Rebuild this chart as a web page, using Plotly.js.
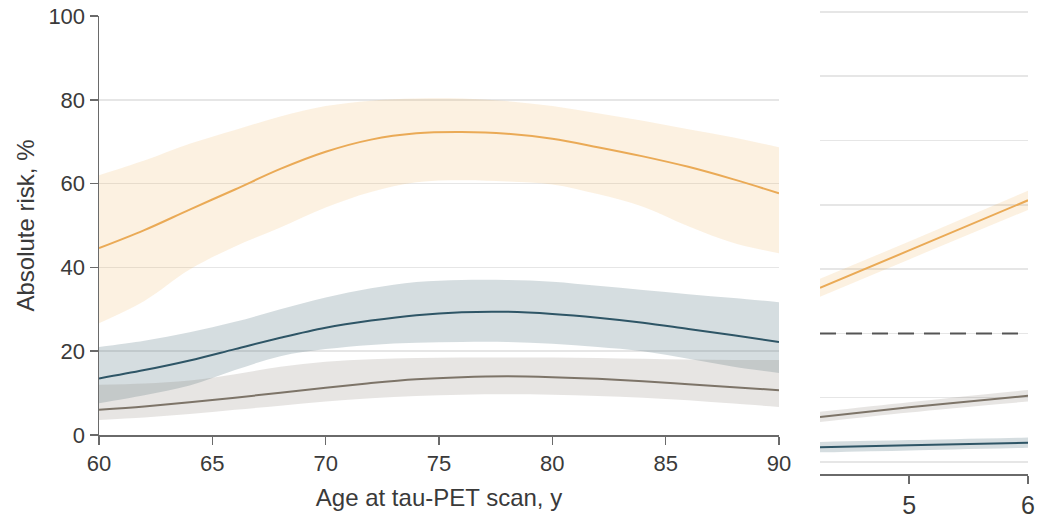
<!DOCTYPE html>
<html>
<head>
<meta charset="utf-8">
<script src="https://cdn.plot.ly/plotly-3.0.1.min.js"></script>
<style>html,body{margin:0;padding:0;background:#fff;}#chart{width:1043px;height:520px;}</style>
</head>
<body>
<div id="chart"></div>
<script>
// ---- Main panel data (age vs absolute risk, %) ----
const ages = [60, 62, 64, 66, 68, 70, 72, 74, 76, 78, 80, 82, 84, 86, 88, 90];

const orangeMid   = [44.6, 48.9, 53.8, 58.6, 63.5, 67.6, 70.5, 72.0, 72.3, 71.9, 70.7, 68.7, 66.5, 64.0, 61.0, 57.7];
const orangeUpper = [62.0, 65.5, 69.5, 72.8, 76.0, 78.5, 79.8, 80.3, 80.3, 79.7, 78.5, 76.8, 75.0, 73.0, 71.0, 68.7];
const orangeLower = [26.7, 32.0, 39.5, 45.0, 49.5, 54.3, 58.0, 60.3, 60.8, 60.5, 59.8, 57.5, 54.5, 49.8, 45.8, 43.4];

const blueMid   = [13.5, 15.5, 17.8, 20.5, 23.2, 25.6, 27.3, 28.6, 29.3, 29.4, 28.9, 28.0, 26.8, 25.3, 23.8, 22.2];
const blueUpper = [21.0, 22.5, 24.5, 27.0, 30.0, 32.8, 35.0, 36.5, 37.0, 37.0, 36.6, 35.6, 34.6, 33.6, 32.7, 31.7];
const blueLower = [7.6, 9.5, 11.8, 15.5, 18.8, 20.5, 21.5, 22.0, 22.2, 22.2, 21.8, 21.0, 20.0, 18.2, 16.3, 14.8];

const grayMid   = [6.0, 6.8, 7.8, 8.9, 10.1, 11.3, 12.4, 13.3, 13.8, 14.0, 13.8, 13.4, 12.8, 12.1, 11.4, 10.7];
const grayUpper = [12.0, 12.3, 13.0, 14.5, 16.3, 17.5, 18.1, 18.4, 18.5, 18.5, 18.5, 18.4, 18.2, 18.0, 17.9, 17.9];
const grayLower = [3.6, 4.2, 5.0, 6.0, 7.0, 8.0, 8.8, 9.3, 9.6, 9.7, 9.6, 9.3, 8.9, 8.3, 7.5, 6.7];

const mainXTicks = [60, 65, 70, 75, 80, 85, 90];
const mainYTicks = [0, 20, 40, 60, 80, 100];

// ---- Right (partial) panel data ----
const rightX = [4.25, 5, 6];
const rOrangeMid   = [27.1, 32.9, 40.7];
const rOrangeUpper = [28.5, 34.3, 42.2];
const rOrangeLower = [25.7, 31.5, 39.2];
const rGrayMid   = [7.0, 8.5, 10.3];
const rGrayUpper = [7.8, 9.3, 11.2];
const rGrayLower = [6.2, 7.7, 9.4];
const rBlueMid   = [2.3, 2.6, 3.0];
const rBlueUpper = [3.1, 3.4, 3.8];
const rBlueLower = [1.5, 1.8, 2.2];
const rightXTicks = [5, 6];
const rightRefValue = 20;

const C = {
  orange: '#EAAA56', orangeBand: 'rgba(240,170,80,0.17)',
  blue: '#2E5566',   blueBand: 'rgba(47,85,102,0.2)',
  gray: '#7D7468',   grayBand: 'rgba(120,112,100,0.18)'
};

function band(x, lo, hi, color, xa, ya) {
  return [
    {x: x, y: lo, mode: 'lines', line: {width: 0, shape: 'spline', color: color}, xaxis: xa, yaxis: ya, hoverinfo: 'skip'},
    {x: x, y: hi, mode: 'lines', line: {width: 0, shape: 'spline', color: color}, fill: 'tonexty', fillcolor: color, xaxis: xa, yaxis: ya, hoverinfo: 'skip'}
  ];
}
function line(x, y, color, xa, ya) {
  return {x: x, y: y, mode: 'lines', line: {width: 2, shape: 'spline', color: color}, xaxis: xa, yaxis: ya};
}

const traces = [].concat(
  band(ages, orangeLower, orangeUpper, C.orangeBand, 'x', 'y'),
  band(ages, blueLower, blueUpper, C.blueBand, 'x', 'y'),
  band(ages, grayLower, grayUpper, C.grayBand, 'x', 'y'),
  [line(ages, orangeMid, C.orange, 'x', 'y'),
   line(ages, blueMid, C.blue, 'x', 'y'),
   line(ages, grayMid, C.gray, 'x', 'y')],
  band(rightX, rOrangeLower, rOrangeUpper, C.orangeBand, 'x2', 'y2'),
  band(rightX, rGrayLower, rGrayUpper, C.grayBand, 'x2', 'y2'),
  band(rightX, rBlueLower, rBlueUpper, C.blueBand, 'x2', 'y2'),
  [line(rightX, rOrangeMid, C.orange, 'x2', 'y2'),
   line(rightX, rGrayMid, C.gray, 'x2', 'y2'),
   line(rightX, rBlueMid, C.blue, 'x2', 'y2')]
);

const axisCol = '#6a6a6a';
const fontFam = 'Liberation Sans, Arial, sans-serif';
const txtCol = '#3a3a3a';

const layout = {
  width: 1043, height: 520,
  margin: {l: 0, r: 0, t: 0, b: 0},
  paper_bgcolor: '#ffffff', plot_bgcolor: 'rgba(0,0,0,0)',
  showlegend: false,
  font: {family: fontFam, color: txtCol},
  xaxis: {
    domain: [99/1043, 779/1043], range: [60, 90], anchor: 'y',
    tickvals: mainXTicks, ticks: 'outside', ticklen: 8, tickwidth: 1.5, tickcolor: axisCol,
    showline: true, linecolor: axisCol, linewidth: 1.5, showgrid: false, zeroline: false,
    tickfont: {size: 22, color: txtCol},
    title: {text: 'Age at tau-PET scan, y', font: {size: 24, color: txtCol}, standoff: 14},
    automargin: false
  },
  yaxis: {
    domain: [(520-435)/520, (520-16)/520], range: [0, 100], anchor: 'x',
    tickvals: mainYTicks, ticks: 'outside', ticklen: 8, tickwidth: 1.5, tickcolor: axisCol,
    showline: true, linecolor: axisCol, linewidth: 1.5,
    showgrid: true, gridcolor: '#e6e6e6', gridwidth: 1.5, zeroline: false,
    tickfont: {size: 22, color: txtCol},
    title: {text: 'Absolute risk, %', font: {size: 24, color: txtCol}, standoff: 7},
    automargin: false
  },
  xaxis2: {
    domain: [820/1043, 1028/1043], range: [4.25, 6], anchor: 'y2',
    tickvals: rightXTicks, ticks: 'outside', ticklen: 8, tickwidth: 1.5, tickcolor: axisCol,
    showline: true, linecolor: axisCol, linewidth: 1.5, showgrid: false, zeroline: false,
    tickfont: {size: 25, color: txtCol}, automargin: false
  },
  yaxis2: {
    domain: [46/520, 1], range: [-1.87, 71.85], anchor: 'x2',
    dtick: 10, tick0: 0, showticklabels: false, ticks: '',
    showline: false, showgrid: true, gridcolor: '#e6e6e6', gridwidth: 1.5, zeroline: false,
    automargin: false
  },
  shapes: [{
    type: 'line', xref: 'x2 domain', yref: 'y2', x0: 0, x1: 1, y0: rightRefValue, y1: rightRefValue,
    line: {color: '#555555', width: 2, dash: '16px,10px'}
  }]
};

Plotly.newPlot('chart', traces, layout, {staticPlot: true, displayModeBar: false});
</script>
</body>
</html>
